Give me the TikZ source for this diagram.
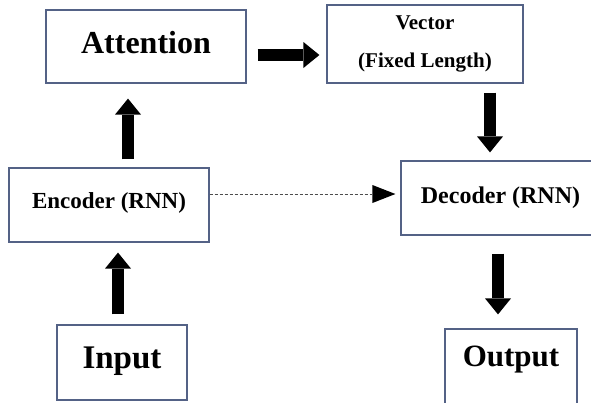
\documentclass[tikz,border=0pt]{standalone}
\usepackage{fontspec}
\setmainfont{Liberation Serif}
\usetikzlibrary{arrows.meta}
\definecolor{BoxLine}{RGB}{84,98,134}
\tikzset{Box/.style={
    inner sep=0pt,
    line width=1.2pt,
    draw=BoxLine,
    align=center
    },
    Arrow/.style={
    line width=12pt,
    -{Triangle[length=16pt,width=26pt,line width=0pt]}
    },
    Link/.style={
    line width=0.8pt,
    draw=black!70,
    dash pattern=on 3pt off 2pt,
    -{Triangle[length=23pt,width=18pt,line width=0pt,fill=black]}
    }
}

\begin{document}
\begin{tikzpicture}[x=1pt,y=-1pt]
\useasboundingbox[fill=white] (0,0) rectangle (591,402);
\node [Box, minimum width=200pt, minimum height=73pt, text depth=8pt, font=\bfseries\fontsize{32}{38}\selectfont] (att) at (146,46.5) {Attention};
\node [Box, minimum width=196pt, minimum height=78pt, font=\bfseries\fontsize{21}{38}\selectfont] (vec) at (425,44) {Vector\\(Fixed Length)};
\node [Box, minimum width=200pt, minimum height=74pt, text depth=9pt, font=\bfseries\fontsize{23}{28}\selectfont] (enc) at (109,205) {Encoder (RNN)};
\node [Box, minimum width=199pt, minimum height=74pt, font=\bfseries\fontsize{24}{29}\selectfont] (dec) at (500.5,198) {Decoder (RNN)};
\node [Box, minimum width=130pt, minimum height=75pt, text depth=10pt, font=\bfseries\fontsize{33}{40}\selectfont] (inp) at (122,362.5) {Input};
\node [Box, minimum width=132pt, minimum height=76pt, text depth=21pt, font=\bfseries\fontsize{31}{37}\selectfont] (out) at (511,367) {Output};
\draw [Arrow, shorten <=11pt, shorten >=7pt] ([yshift=-8.5pt]att.east) -- ([yshift=-8.5pt]att.east -| vec.west);
\draw [Arrow, shorten <=8pt, shorten >=15pt] ([xshift=19pt]enc.north) -- ([xshift=19pt]enc.north |- att.south);
\draw [Arrow, shorten <=10pt, shorten >=10pt] ([xshift=-4pt]inp.north) -- ([xshift=-4pt]inp.north |- enc.south);
\draw [Arrow, shorten <=9pt, shorten >=8pt] ([xshift=65pt]vec.south) -- ([xshift=65pt]vec.south |- dec.north);
\draw [Arrow, shorten <=18pt, shorten >=14pt] ([xshift=-2.5pt]dec.south) -- ([xshift=-2.5pt]dec.south |- out.north);
\draw [Link, shorten >=5pt] ([yshift=11pt]enc.east) -- ([yshift=11pt]enc.east -| dec.west);
\end{tikzpicture}
\end{document}
